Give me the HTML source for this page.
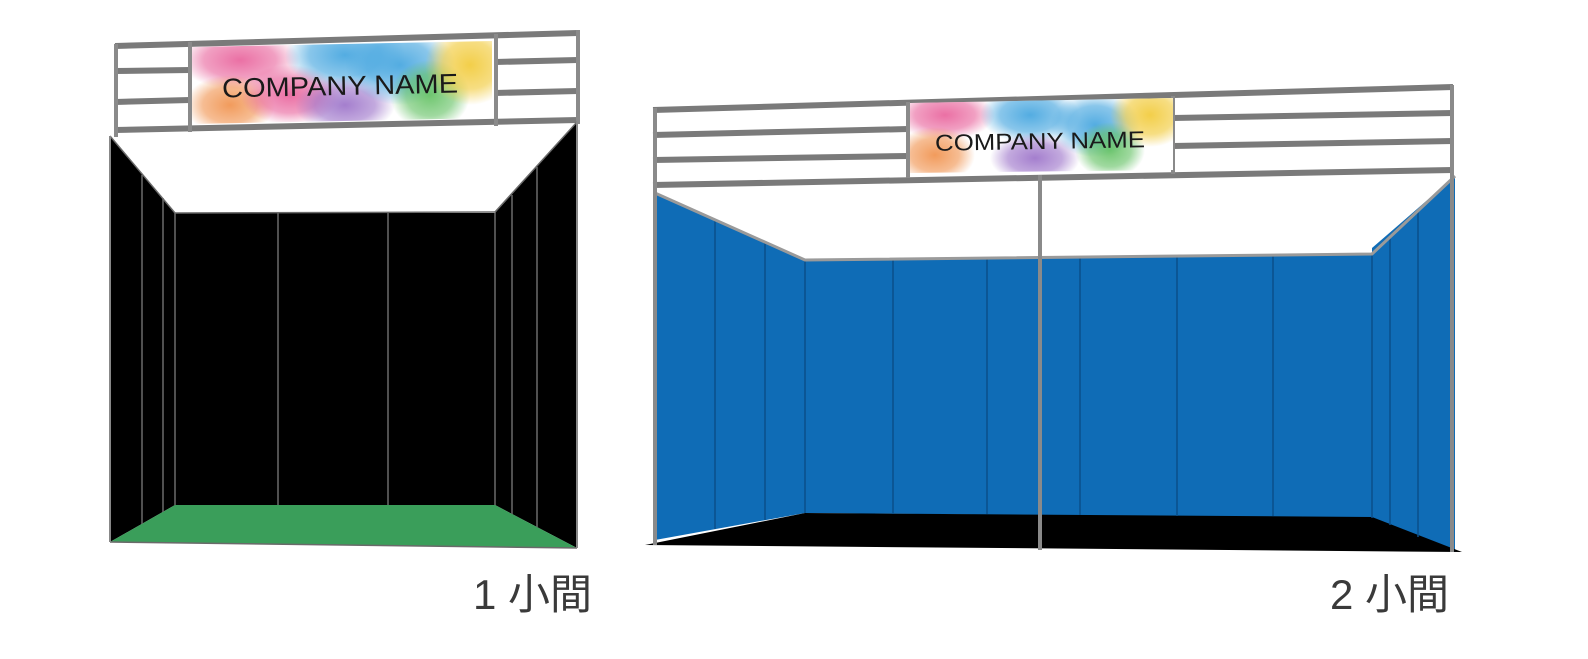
<!DOCTYPE html>
<html><head><meta charset="utf-8"><style>
html,body{margin:0;padding:0;background:#fff;width:1588px;height:659px;overflow:hidden}
svg{display:block}
</style></head><body>
<svg width="1588" height="659" viewBox="0 0 1588 659" xmlns="http://www.w3.org/2000/svg">
<defs>
<radialGradient id="pk"><stop offset="0" stop-color="#e8609a" stop-opacity=".9"/><stop offset=".6" stop-color="#e8609a" stop-opacity=".6"/><stop offset="1" stop-color="#e8609a" stop-opacity="0"/></radialGradient>
<radialGradient id="or"><stop offset="0" stop-color="#f0904a" stop-opacity=".9"/><stop offset=".6" stop-color="#f0904a" stop-opacity=".6"/><stop offset="1" stop-color="#f0904a" stop-opacity="0"/></radialGradient>
<radialGradient id="bl"><stop offset="0" stop-color="#4aa8e0" stop-opacity=".95"/><stop offset=".6" stop-color="#4aa8e0" stop-opacity=".65"/><stop offset="1" stop-color="#4aa8e0" stop-opacity="0"/></radialGradient>
<radialGradient id="pu"><stop offset="0" stop-color="#9a70c8" stop-opacity=".9"/><stop offset=".6" stop-color="#9a70c8" stop-opacity=".6"/><stop offset="1" stop-color="#9a70c8" stop-opacity="0"/></radialGradient>
<radialGradient id="gr"><stop offset="0" stop-color="#60c060" stop-opacity=".9"/><stop offset=".6" stop-color="#60c060" stop-opacity=".6"/><stop offset="1" stop-color="#60c060" stop-opacity="0"/></radialGradient>
<radialGradient id="ye"><stop offset="0" stop-color="#f2cc40" stop-opacity=".95"/><stop offset=".6" stop-color="#f2cc40" stop-opacity=".65"/><stop offset="1" stop-color="#f2cc40" stop-opacity="0"/></radialGradient>
<clipPath id="b1"><polygon points="192,47 492,41 492,118 192,124"/></clipPath>
<clipPath id="b2"><polygon points="910,103 1173,98 1173,170 910,173"/></clipPath>
</defs>

<!-- LEFT BOOTH -->
<g stroke="#7a7a7a" stroke-width="6" fill="none">
<line x1="115" y1="46" x2="578" y2="33"/>
<line x1="115" y1="71" x2="190" y2="70"/>
<line x1="115" y1="102" x2="190" y2="100"/>
<line x1="115" y1="130" x2="578" y2="120"/>
<line x1="495" y1="62" x2="578" y2="60"/>
<line x1="495" y1="93" x2="578" y2="91"/>
</g>
<g stroke="#8a8a8a" stroke-width="4">
<line x1="116" y1="44" x2="116" y2="137"/>
<line x1="190" y1="42" x2="190" y2="132"/>
<line x1="496" y1="34" x2="496" y2="126"/>
<line x1="578" y1="30" x2="578" y2="124"/>
</g>
<g clip-path="url(#b1)">
<rect x="190" y="38" width="305" height="90" fill="#fff"/>
<ellipse cx="240" cy="60" rx="60" ry="30" fill="url(#pk)"/>
<ellipse cx="230" cy="105" rx="45" ry="30" fill="url(#or)"/>
<ellipse cx="290" cy="95" rx="50" ry="30" fill="url(#pk)"/>
<ellipse cx="345" cy="55" rx="60" ry="35" fill="url(#bl)"/>
<ellipse cx="345" cy="105" rx="50" ry="28" fill="url(#pu)"/>
<ellipse cx="400" cy="65" rx="55" ry="40" fill="url(#bl)"/>
<ellipse cx="430" cy="95" rx="40" ry="35" fill="url(#gr)"/>
<ellipse cx="470" cy="65" rx="45" ry="40" fill="url(#ye)"/>
</g>
<text x="222" y="95" font-family="Liberation Sans, sans-serif" font-size="27" fill="#1a1a1a" transform="rotate(-1.2 340 85)" textLength="236" lengthAdjust="spacingAndGlyphs">COMPANY NAME</text>

<polygon points="110,136 175,213 175,505 110,542" fill="#000"/>
<polygon points="577,122 495,213 495,505 577,548" fill="#000"/>
<rect x="175" y="213" width="320" height="292" fill="#000"/>
<polygon points="110,542 175,505 495,505 577,548" fill="#3a9e5a"/>
<g stroke="#6a6a6a" stroke-width="1.5">
<line x1="110" y1="136" x2="175" y2="213"/><line x1="175" y1="213" x2="495" y2="212"/><line x1="495" y1="212" x2="577" y2="122"/>
<line x1="142" y1="175" x2="142" y2="524"/><line x1="163" y1="198" x2="163" y2="512"/>
<line x1="175" y1="213" x2="175" y2="505"/>
<line x1="278" y1="213" x2="278" y2="505"/><line x1="388" y1="213" x2="388" y2="505"/>
<line x1="495" y1="213" x2="495" y2="505"/>
<line x1="512" y1="195" x2="512" y2="514"/><line x1="537" y1="167" x2="537" y2="527"/>
<line x1="110" y1="542" x2="577" y2="548"/>
</g>
<line x1="110" y1="136" x2="110" y2="542" stroke="#888" stroke-width="2"/>
<line x1="577" y1="122" x2="577" y2="548" stroke="#888" stroke-width="2"/>

<!-- RIGHT BOOTH -->
<polygon points="655,193 805,260 805,513 655,540" fill="#0f6cb6"/>
<polygon points="1455,176 1372,248 1372,518 1455,552" fill="#0f6cb6"/>
<polygon points="805,260 1372,254 1372,518 805,513" fill="#0f6cb6"/>
<polygon points="645,545 805,513 1372,517 1462,552" fill="#000"/>
<g stroke="#0a4f8a" stroke-width="1.5">
<line x1="715" y1="220" x2="715" y2="529"/><line x1="765" y1="242" x2="765" y2="520"/>
<line x1="805" y1="260" x2="805" y2="513"/>
<line x1="893" y1="259" x2="893" y2="514"/><line x1="987" y1="258" x2="987" y2="514"/>
<line x1="1080" y1="257" x2="1080" y2="515"/><line x1="1177" y1="256" x2="1177" y2="516"/>
<line x1="1273" y1="255" x2="1273" y2="516"/><line x1="1372" y1="254" x2="1372" y2="518"/>
<line x1="1390" y1="238" x2="1390" y2="525"/><line x1="1418" y1="210" x2="1418" y2="537"/>
</g>
<g stroke="#9a9a9a" stroke-width="3" fill="none">
<polyline points="655,193 805,260 1372,254 1455,176"/>
</g>
<g stroke="#7a7a7a" stroke-width="6" fill="none">
<line x1="653" y1="110" x2="1453" y2="87"/>
<line x1="653" y1="135" x2="908" y2="129"/>
<line x1="653" y1="160" x2="908" y2="156"/>
<line x1="653" y1="185" x2="1453" y2="170"/>
<line x1="1173" y1="118" x2="1453" y2="113"/>
<line x1="1173" y1="146" x2="1453" y2="141"/>
</g>
<g stroke="#8a8a8a" stroke-width="4">
<line x1="655" y1="108" x2="655" y2="545"/>
<line x1="908" y1="102" x2="908" y2="178"/>
<line x1="1173" y1="96" x2="1173" y2="174"/>
<line x1="1452" y1="85" x2="1452" y2="552"/>
<line x1="1040" y1="175" x2="1040" y2="550"/>
</g>
<g clip-path="url(#b2)">
<rect x="908" y="96" width="266" height="80" fill="#fff"/>
<ellipse cx="945" cy="115" rx="50" ry="25" fill="url(#pk)"/>
<ellipse cx="935" cy="155" rx="40" ry="28" fill="url(#or)"/>
<ellipse cx="1030" cy="115" rx="50" ry="28" fill="url(#bl)"/>
<ellipse cx="1035" cy="158" rx="45" ry="25" fill="url(#pu)"/>
<ellipse cx="1095" cy="125" rx="45" ry="32" fill="url(#bl)"/>
<ellipse cx="1110" cy="150" rx="35" ry="28" fill="url(#gr)"/>
<ellipse cx="1150" cy="115" rx="40" ry="32" fill="url(#ye)"/>
</g>
<text x="935" y="149" font-family="Liberation Sans, sans-serif" font-size="23" fill="#1a1a1a" transform="rotate(-1 1040 140)" textLength="210" lengthAdjust="spacingAndGlyphs">COMPANY NAME</text>

<text x="473" y="609" font-family="Liberation Sans, 'Noto Sans CJK JP', sans-serif" font-size="42" fill="#3a3a3a">1 小間</text>
<text x="1330" y="609" font-family="Liberation Sans, 'Noto Sans CJK JP', sans-serif" font-size="42" fill="#3a3a3a">2 小間</text>
</svg>
</body></html>
